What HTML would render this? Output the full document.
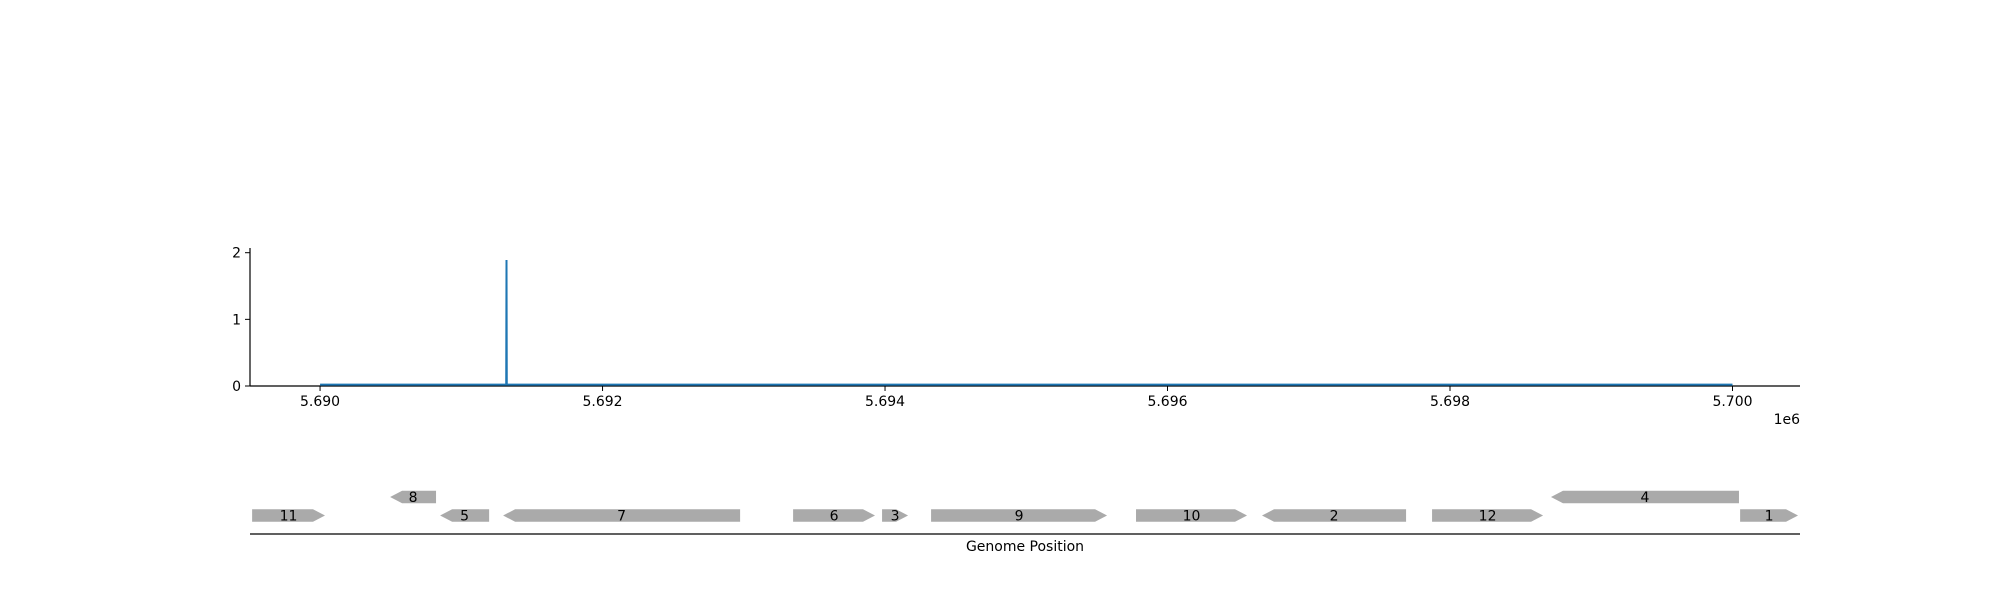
<!DOCTYPE html>
<html><head><meta charset="utf-8"><style>
html,body{margin:0;padding:0;background:#fff;}
svg{display:block;font-family:"DejaVu Sans","Liberation Sans",sans-serif;}
</style></head><body>
<svg id="chart" width="2000" height="600" viewBox="0 0 2000 600"></svg>
<script>
const covPos=[5690000,5691318,5691320,5691322,5700000];
const covVal=[0.02,0.02,1.89,0.02,0.02];
const xTicks=[5690000,5692000,5694000,5696000,5698000,5700000];
const xTickLabels=["5.690","5.692","5.694","5.696","5.698","5.700"];
const yTicks=[0,1,2];
const geneNames=["11","8","5","7","6","3","9","10","2","12","4","1"];
const geneStart=[5689519,5690496,5690850,5691296,5693349,5693979,5694326,5695777,5696669,5697873,5698715,5700054];
const geneEnd=[5690035,5690821,5691197,5692974,5693929,5694163,5695572,5696563,5697689,5698659,5700046,5700464];
const geneStrand=[1,-1,-1,-1,1,1,1,1,-1,1,-1,1];
const geneRow=[0,1,0,0,0,0,0,0,0,0,1,0];

const NS="http://www.w3.org/2000/svg";
const svg=document.getElementById('chart');
const X0=250,X1=1800,D0=5689504,D1=5700478;
const x=v=>X0+(v-D0)/(D1-D0)*(X1-X0);
const Y0=386,YT=252.7;
const y=v=>Y0-(v/2)*(Y0-YT);
function mk(t,a,p){const e=document.createElementNS(NS,t);for(const k in a)e.setAttribute(k,a[k]);(p||svg).appendChild(e);return e;}

let e=mk('line',{x1:X0,y1:248,x2:X0,y2:Y0,stroke:'#000','stroke-width':1.2});


e=mk('line',{x1:X0,y1:Y0,x2:X1,y2:Y0,stroke:'#000','stroke-width':1.2});


yTicks.forEach(t=>{
  let l=mk('line',{x1:X0-5,y1:y(t),x2:X0,y2:y(t),stroke:'#000','stroke-width':1});
  
  
  let tx=mk('text',{x:X0-9,y:y(t)+5,'text-anchor':'end','font-size':14});
  tx.textContent=t;
  
  
});
xTicks.forEach((t,i)=>{
  let l=mk('line',{x1:x(t),y1:Y0,x2:x(t),y2:Y0+5,stroke:'#000','stroke-width':1});
  
  
  let tx=mk('text',{x:x(t),y:Y0+20,'text-anchor':'middle','font-size':14});
  tx.textContent=xTickLabels[i];
  
  
});
e=mk('text',{x:1800,y:424,'text-anchor':'end','font-size':14});
e.textContent='1e6';



let d=covPos.map((p,i)=>(i?'L':'M')+x(p).toFixed(2)+' '+y(covVal[i]).toFixed(2)).join(' ');
e=mk('path',{d:d,fill:'none',stroke:'#1f77b4','stroke-width':2});



const rowC=[515.5,497];const H=12.5,AH=12;
geneNames.forEach((n,i)=>{
  const a=x(geneStart[i]),b=x(geneEnd[i]),c=rowC[geneRow[i]],t=c-H/2,bt=c+H/2;
  const ah=Math.min(AH,(b-a)*0.5);
  let pts;
  if(geneStrand[i]>0) pts=[[a,t],[b-ah,t],[b,c],[b-ah,bt],[a,bt]];
  else pts=[[a+ah,t],[b,t],[b,bt],[a+ah,bt],[a,c]];
  const g=mk('g',{});
  
  
  mk('polygon',{points:pts.map(p=>p.join(',')).join(' '),fill:'#aaaaaa'},g);
  const tx=mk('text',{x:(a+b)/2,y:c+5,'text-anchor':'middle','font-size':14},g);
  tx.textContent=n;
});
e=mk('line',{x1:X0,y1:534,x2:X1,y2:534,stroke:'#000','stroke-width':1.2});


e=mk('text',{x:1025,y:551,'text-anchor':'middle','font-size':14});
e.textContent='Genome Position';


</script>
</body></html>
